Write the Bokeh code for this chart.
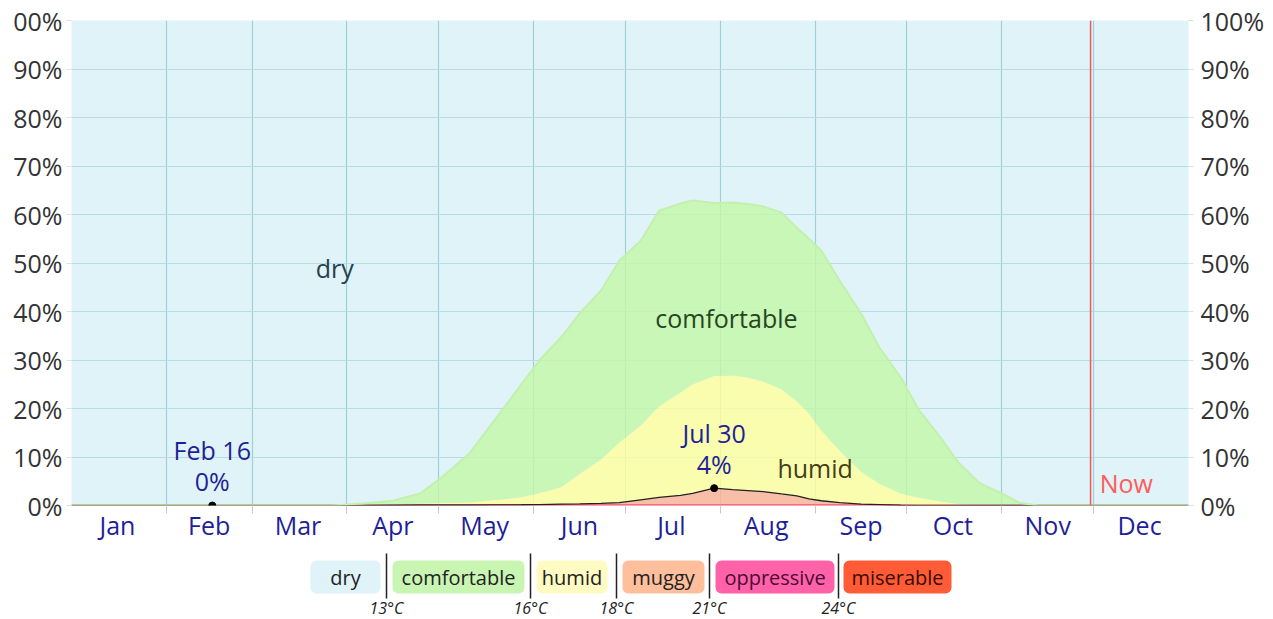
import numpy as np
from bokeh.plotting import figure
from bokeh.models import ColumnDataSource, Range1d, FixedTicker, LinearAxis, Span, Quad
from bokeh.layouts import column
from bokeh.core.properties import value
from bokeh.transform import stack
from bokeh.embed import file_html
from bokeh.resources import INLINE

# ---------------- data ----------------
days = [0, 85, 95, 105, 114, 121, 130, 140, 147, 153,
        160, 166, 173, 179, 186, 192, 199, 203, 210, 216,
        221, 226, 232, 237, 241, 245, 251, 258, 264, 271,
        277, 284, 290, 297, 304, 310, 316, 365]
comfortable = [0, 0, 0.4, 0.9, 2.1, 5.3, 10.1, 17.8, 23.3, 27.4,
               30.9, 33.1, 34.8, 37.5, 38.1, 40.3, 39.0, 37.9, 35.7, 35.7,
               35.8, 36.1, 36.4, 35.8, 36.0, 37.1, 35.1, 32.6, 28.1, 23.9,
               18.0, 13.2, 8.4, 4.5, 2.5, 0.5, 0, 0]
humid = [0, 0, 0, 0.05, 0.3, 0.4, 0.5, 1.1, 1.55, 2.4,
         3.5, 6.15, 9.05, 12.4, 15.3, 18.8, 21.2, 22.5, 23.1, 23.5,
         23.3, 22.7, 21.6, 19.5, 17.6, 14.5, 10.7, 6.7, 4.3, 2.45,
         1.6, 0.8, 0.3, 0, 0, 0, 0, 0]
muggy = [0, 0, 0, 0.05, 0.1, 0.1, 0.1, 0.05, 0.07, 0.12,
         0.2, 0.25, 0.35, 0.5, 1.1, 1.6, 2.0, 2.4, 3.5, 3.2,
         3.0, 2.8, 2.3, 1.9, 1.3, 0.9, 0.5, 0.2, 0.1, 0.02,
         0, 0, 0, 0, 0, 0, 0, 0]
oppressive = [0, 0, 0, 0, 0, 0, 0, 0.08, 0.08, 0.08,
              0.08, 0.08, 0.08, 0.08, 0.08, 0.08, 0.08, 0.08, 0.08, 0.08,
              0.08, 0.08, 0.08, 0.08, 0.08, 0.08, 0.08, 0.08, 0.08, 0.03,
              0, 0, 0, 0, 0, 0, 0, 0]

months = ["Jan", "Feb", "Mar", "Apr", "May", "Jun",
          "Jul", "Aug", "Sep", "Oct", "Nov", "Dec"]
month_starts = [0, 31, 59, 90, 120, 151, 181, 212, 243, 273, 304, 334, 365]
y_ticks = [0, 10, 20, 30, 40, 50, 60, 70, 80, 90, 100]

ext_days = [46, 210]
ext_dates = ["Feb 16", "Jul 30"]
now_day = 333

band_names = ["dry", "comfortable", "humid", "muggy", "oppressive", "miserable"]
band_colors = ["#e0f3f8", "#c9f5b3", "#fffbc2", "#ffbf9c", "#ff62a8", "#ff5b36"]
band_text_colors = ["#222222", "#222222", "#222222", "#222222", "#4a0a35", "#3a0c00"]
band_temps = ["13°C", "16°C", "18°C", "21°C", "24°C"]

# ---------------- helpers ----------------
FONT = "Open Sans"
try:
    quad_extra = {"border_radius": 6} if "border_radius" in Quad.properties() else {}
except Exception:
    quad_extra = {}

src = ColumnDataSource(dict(day=days, comfortable=comfortable, humid=humid,
                            muggy=muggy, oppressive=oppressive))

LEFT, RIGHT, TOP, BOTTOM = 71, 77, 20, 42
FW, FH = 1117, 485
p = figure(frame_width=FW, frame_height=FH,
           x_range=Range1d(0, 365), y_range=Range1d(0, 100),
           output_backend="svg", toolbar_location=None,
           min_border_left=LEFT, min_border_right=RIGHT, min_border_top=TOP,
           min_border_bottom=BOTTOM,
           background_fill_color="#e0f3f8", border_fill_color="white",
           outline_line_color=None)

# stacked areas (bottom -> top)
p.varea_stack(["oppressive", "muggy", "humid", "comfortable"], x="day", source=src,
              fill_color=["#ff5a7a", "#ffb093", "#ffff9a", "#c2f7a6"],
              fill_alpha=0.8)

p.line(x="day", y=stack("oppressive"), source=src, line_color="#ff4d6d", line_width=1.5)
p.line(x="day", y=stack("oppressive", "muggy"), source=src, line_color="#222222", line_width=1.3)
p.line(x="day", y=stack("oppressive", "muggy", "humid", "comfortable"), source=src,
       line_color="#c2f0ae", line_width=2)

# grids
p.xgrid.ticker = FixedTicker(ticks=month_starts)
p.xgrid.grid_line_color = "#9fcfd9"
p.xgrid.grid_line_width = 1.2
p.ygrid.ticker = FixedTicker(ticks=y_ticks)
p.ygrid.grid_line_color = "#b6dce4"
p.ygrid.grid_line_width = 1.2

# x axis (month names at mid-month, small ticks at month boundaries)
mids = [(a + b) // 2 for a, b in zip(month_starts[:-1], month_starts[1:])]
xa = p.xaxis[0]
xa.ticker = FixedTicker(ticks=mids, minor_ticks=month_starts[1:-1])
xa.major_label_overrides = {m: name for m, name in zip(mids, months)}
xa.major_tick_line_color = None
xa.major_tick_out = 0
xa.minor_tick_in = 0
xa.minor_tick_out = 8
xa.minor_tick_line_color = "#c8c8c8"
xa.axis_line_color = None
xa.major_label_standoff = -6
xa.major_label_text_font = FONT
xa.major_label_text_font_size = "25px"
xa.major_label_text_color = "#1f1f98"

# y axes
def style_y(ax, standoff):
    ax.ticker = FixedTicker(ticks=y_ticks)
    ax.axis_line_color = None
    ax.major_tick_in = 0
    ax.major_tick_out = 5
    ax.major_tick_line_color = "#cfe5ea"
    ax.minor_tick_line_color = None
    ax.major_label_standoff = standoff
    ax.major_label_text_font = FONT
    ax.major_label_text_font_size = "25px"
    ax.major_label_text_color = "#333333"

ya = p.yaxis[0]
style_y(ya, 4)
left_labels = {t: f"{t}%" for t in y_ticks}
left_labels[100] = "00%"  # clipped at the page edge in the reference
ya.major_label_overrides = left_labels

ra = LinearAxis()
style_y(ra, 7)
ra.major_label_overrides = {t: f"{t}%" for t in y_ticks}
p.add_layout(ra, "right")

# "Now" marker
p.add_layout(Span(location=now_day, dimension="height", line_color="#f2575b", line_width=1.5))
p.text(x=[now_day + 3], y=[4.7], text=["Now"], text_font=value(FONT), text_font_size="25px",
       text_color="#ff5c5c", text_align="left", text_baseline="middle")

# region labels
p.text(x=[86, 214, 243], y=[49, 38.6, 7.8], text=["dry", "comfortable", "humid"],
       text_font=value(FONT), text_font_size="25px",
       text_color=["#26404c", "#27451f", "#433e17"],
       text_align="center", text_baseline="middle")

# extremes of the muggy-or-worse series
total_muggy = np.array(muggy) + np.array(oppressive)
ext_vals = list(np.interp(ext_days, days, total_muggy))
ext_text = [f"{d}\n{int(round(v))}%" for d, v in zip(ext_dates, ext_vals)]
p.scatter(x=ext_days, y=ext_vals, size=7, color="black")
p.text(x=ext_days, y=ext_vals, text=ext_text, text_font=value(FONT), text_font_size="25px",
       text_color="#1f1f98", text_align="center", text_baseline="bottom",
       text_line_height=0.92, y_offset=-7)

# ---------------- legend strip ----------------
LH = 70
lf = figure(frame_width=FW, frame_height=LH,
            x_range=Range1d(LEFT, LEFT + FW), y_range=Range1d(LH, 0),
            output_backend="svg", toolbar_location=None,
            min_border_left=LEFT, min_border_right=RIGHT, min_border_top=0, min_border_bottom=0,
            x_axis_location=None, y_axis_location=None, outline_line_color=None)
lf.grid.visible = False

box_left = [310, 392, 536, 622, 715, 843]
box_right = [380, 524, 607, 704, 834, 951]
seps = [386, 530, 616, 709, 838]
lf.quad(left=box_left, right=box_right, top=[13] * 6, bottom=[46] * 6,
        fill_color=band_colors, line_color=None, **quad_extra)
lf.text(x=[(a + b) / 2 for a, b in zip(box_left, box_right)], y=[30] * 6, text=band_names,
        text_font=value(FONT), text_font_size="20px", text_color=band_text_colors,
        text_align="center", text_baseline="middle")
lf.segment(x0=seps, x1=seps, y0=[6] * 5, y1=[51] * 5, line_color="#222222", line_width=1.5)
lf.text(x=seps, y=[60] * 5, text=band_temps, text_font=value(FONT), text_font_size="16px",
        text_font_style="italic", text_color="#222222", text_align="center",
        text_baseline="middle")

layout = column(p, lf, spacing=0)
open("out.html", "w").write(file_html(layout, INLINE))
